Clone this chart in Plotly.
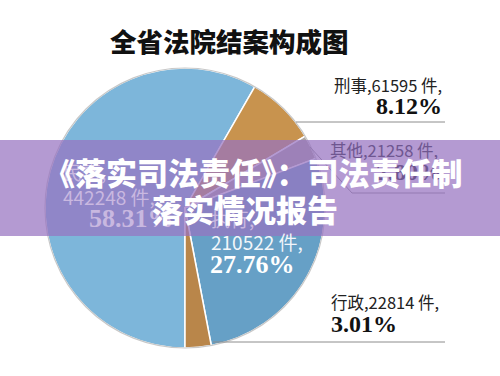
import plotly.graph_objects as go

W, H = 500, 376

title_text = "全省法院结案构成图"
categories = ["民事", "刑事", "其他", "执行", "行政"]
case_counts = [442248, 61595, 21258, 210522, 22814]
percent_labels = ["58.31%", "8.12%", "2.80%", "27.76%", "3.01%"]
slice_colors = ["#7db6da", "#c8934e", "#aca6a2", "#66a0c6", "#b9864a"]
banner_lines = ["《落实司法责任》：司法责任制", "落实情况报告"]


def px(x):
    return x / W


def py(y):
    return 1 - y / H


CJK = "Noto Sans CJK SC"
SERIF = "Liberation Serif"

fig = go.Figure()
fig.add_trace(go.Pie(
    labels=categories,
    values=case_counts,
    sort=False,
    direction="clockwise",
    rotation=180,
    marker=dict(colors=slice_colors, line=dict(color="white", width=1.5)),
    textinfo="none",
    hoverinfo="label+value+percent",
    showlegend=False,
    domain=dict(x=[px(45), px(325)], y=[py(348), py(68)]),
))

shapes = []
# outer rim
shapes.append(dict(type="circle", xref="paper", yref="paper",
                   x0=px(45), x1=px(325), y0=py(348), y1=py(68),
                   line=dict(color="#c8c8c8", width=1.2), layer="above"))
line_style = dict(color="#8c8c8c", width=1)
# leader lines
shapes.append(dict(type="line", xref="paper", yref="paper",
                   x0=px(296), y0=py(122), x1=px(445), y1=py(122), line=line_style))
shapes.append(dict(type="path", xref="paper", yref="paper",
                   path=f"M {px(310)} {py(147)} L {px(352)} {py(193)} L {px(445)} {py(193)}",
                   line=line_style))
shapes.append(dict(type="line", xref="paper", yref="paper",
                   x0=px(213), y0=py(342), x1=px(445), y1=py(342), line=line_style))
# banner
shapes.append(dict(type="rect", xref="paper", yref="paper",
                   x0=0, x1=1, y0=py(236), y1=py(140),
                   fillcolor="rgba(151,115,192,0.72)", line=dict(width=0), layer="above"))

ann = []


def add(text, x, y, size, color, family=CJK, xanchor="left", weight="normal"):
    ann.append(dict(text=text, x=px(x), y=py(y), xref="paper", yref="paper",
                    xanchor=xanchor, yanchor="middle", showarrow=False,
                    font=dict(family=family, size=size, color=color, weight=weight)))


# title
add(title_text, 229, 40, 26.5, "#111111", xanchor="center", weight=900)

# 刑事 (above banner)
add(f"{categories[1]},{case_counts[1]} 件,", 444, 85, 16.5, "#222222", xanchor="right")
add(percent_labels[1], 444, 106, 24, "#111111", family=SERIF, xanchor="right", weight="bold")

# 其他 (under banner -> dimmed)
add(f"{categories[2]},{case_counts[2]} 件,", 440, 150, 16.5, "#6e5690", xanchor="right")
add(percent_labels[2], 444, 172, 24, "#6e5690", family=SERIF, xanchor="right", weight="bold")

# 行政
add(f"{categories[4]},{case_counts[4]} 件,", 329, 302, 16.5, "#222222")
add(percent_labels[4], 329, 324, 24, "#111111", family=SERIF, weight="bold")

# 民事 (under banner -> dimmed white)
dim_white = "#c9b8e0"
add(f"{categories[0]},", 61, 172, 19, dim_white)
add(f"{case_counts[0]} 件,", 61, 196, 19, dim_white)
add(percent_labels[0], 87, 218, 26, dim_white, family=SERIF, weight="bold")

# 执行
add(f"{categories[3]},", 209, 218, 19, dim_white)
add(f"{case_counts[3]} 件,", 209, 242, 19, "#f2f6fa")
add(percent_labels[3], 208, 264, 26, "#ffffff", family=SERIF, weight="bold")

# banner text
add(banner_lines[0], 253, 172, 31, "#ffffff", xanchor="center", weight=900)
add(banner_lines[1], 245, 208, 31, "#ffffff", xanchor="center", weight=900)

fig.update_layout(
    width=W, height=H,
    margin=dict(l=0, r=0, t=0, b=0),
    paper_bgcolor="white",
    plot_bgcolor="white",
    shapes=shapes,
    annotations=ann,
)

fig.write_html("out.html", config={"displayModeBar": False},
               post_script="document.body.style.margin='0';")
